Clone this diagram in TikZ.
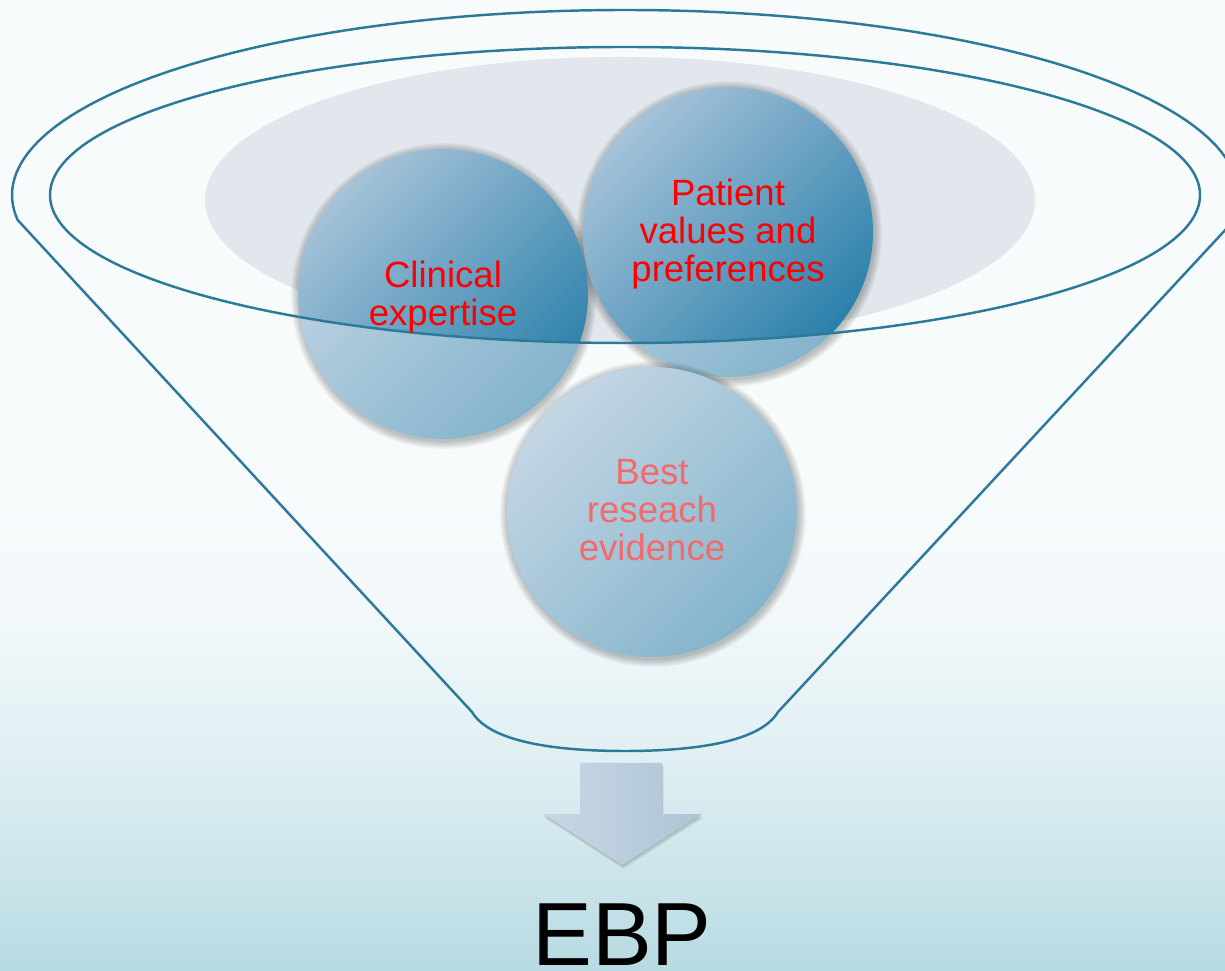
\documentclass[tikz,border=0pt]{standalone}
\usepackage{fontspec}
\setmainfont{Liberation Sans}

\definecolor{rimblue}{HTML}{2C7A9A}
\definecolor{mistgray}{HTML}{E1E7EC}
\definecolor{ballpale}{HTML}{C4D6E4}
\definecolor{ballmid}{HTML}{84B4CC}
\definecolor{ballsoft}{HTML}{A6C2D8}
\definecolor{balldeep}{HTML}{2A80AB}
\definecolor{arrowpale}{HTML}{C8D7E4}
\definecolor{arrowmid}{HTML}{AFC4D6}
\definecolor{fadedred}{HTML}{F46A6A}

\definecolor{bgtop}{HTML}{F8FBFC}
\definecolor{bgmid}{HTML}{F2F8FA}
\definecolor{bglow}{HTML}{E0EFF3}
\definecolor{bgfoot}{HTML}{CAE4E9}
\definecolor{bgbottom}{HTML}{B7DAE2}
\pgfdeclareverticalshading{backdrop}{100bp}{color(0bp)=(bgbottom); color(25bp)=(bgbottom);
	color(29.6bp)=(bgfoot); color(36bp)=(bglow); color(43bp)=(bgmid); color(50bp)=(bgtop); color(100bp)=(bgtop)}

\tikzset{
	rim/.style = {draw = rimblue, line width = 0.7pt},
	haze/.style = {fill = black, opacity = 0.03},
	ball/.style = {top color = ballpale, bottom color = ballmid, shading angle = 45},
	wetball/.style = {top color = ballsoft, bottom color = balldeep, shading angle = 45},
	lbl/.style = {align = center, font = \fontsize{10.4}{10.9}\selectfont}
}

\begin{document}
\begin{tikzpicture}[x = 0.01cm, y = 0.01cm]
	\useasboundingbox (0, 0) rectangle (1225, 970);
	\shade[shading = backdrop] (0, 0) rectangle (1225, 970);
	
	\fill[mistgray] (620, 770) ellipse [x radius = 415, y radius = 143];
	
	\foreach \cx/\cy in {443/676, 728/738, 652/458} {
		\foreach \r in {146, ..., 153} {
			\fill[haze] (\cx + 1, \cy - 2) circle [radius = \r];
		}
		\shade[ball] (\cx, \cy) circle [radius = 145];
	}
	\begin{scope}
		\clip (625, 775) ellipse [x radius = 575, y radius = 148];
		\foreach \cx/\cy in {443/676, 728/738} {
			\shade[wetball] (\cx, \cy) circle [radius = 145];
		}
	\end{scope}
	
	\draw[rim] (625, 775) ellipse [x radius = 575, y radius = 148];
	\draw[rim] (625, 775) ++(-9.33:613 and 185)
		arc [start angle = -9.33, end angle = 187.77, x radius = 613, y radius = 185]
		-- (472, 258) .. controls (490, 228) and (555, 219) .. (625, 219)
		.. controls (695, 219) and (760, 228) .. (778, 258) -- cycle;
	
	\node (clinical) at (443, 673) [lbl, text = red] {Clinical\\expertise};
	\node (patient) at (728, 736) [lbl, text = red] {Patient\\values and\\preferences};
	\node (research) at (652, 460) [lbl, text = fadedred] {Best\\reseach\\evidence};
	
	\foreach \k in {1, ..., 4} {
		\fill[haze, opacity = 0.05] (580 + 0.4*\k, 207 - \k) -- (662 + 0.4*\k, 207 - \k) -- (662 + 0.4*\k, 156 - \k)
			-- (702 + 0.4*\k, 156 - \k) -- (622 + 0.4*\k, 105 - \k) -- (543 + 0.4*\k, 156 - \k) -- (580 + 0.4*\k, 156 - \k) -- cycle;
	}
	\shade[left color = arrowpale, right color = arrowmid]
		(580, 207) -- (662, 207) -- (662, 156) -- (702, 156) -- (622, 105) -- (543, 156) -- (580, 156) -- cycle;
	
	\node (ebp) at (622, 5) [anchor = base, inner sep = 0pt, font = \fontsize{25.5}{30}\selectfont] {EBP};
\end{tikzpicture}
\end{document}
